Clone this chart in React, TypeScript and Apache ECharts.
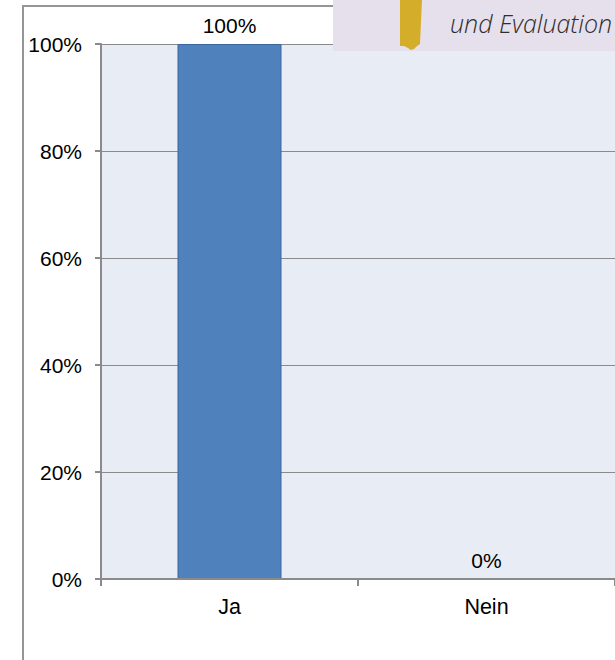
import React, { useEffect, useRef } from "react";
import * as echarts from "echarts";

const categories = ["Ja", "Nein"];
const values = [100, 0];
const yTicks = [0, 20, 40, 60, 80, 100];
const logoText = "und Evaluation";

export default function App() {
  const ref = useRef<HTMLDivElement>(null);
  useEffect(() => {
    if (!ref.current) return;
    const chart = echarts.init(ref.current, undefined, { renderer: "svg" });
    const font = "'Liberation Sans', Arial, sans-serif";
    chart.setOption({
      animation: false,
      backgroundColor: "#ffffff",
      grid: {
        left: 101,
        right: 0,
        top: 44,
        bottom: 81,
        show: true,
        backgroundColor: "#E8ECF4",
        borderWidth: 0,
      },
      xAxis: {
        type: "category",
        data: categories,
        axisLine: { show: true, lineStyle: { color: "#8a8a8a", width: 2 } },
        axisTick: { show: true, length: 7, lineStyle: { color: "#8a8a8a", width: 2 } },
        axisLabel: { color: "#000", fontSize: 21.5, fontFamily: font, margin: 17 },
        splitLine: { show: false },
        z: 5,
      },
      yAxis: {
        type: "value",
        min: yTicks[0],
        max: yTicks[yTicks.length - 1],
        interval: 20,
        axisLine: { show: true, lineStyle: { color: "#8a8a8a", width: 2 } },
        axisTick: { show: true, length: 6, inside: false, lineStyle: { color: "#8a8a8a", width: 2 } },
        axisLabel: {
          color: "#000",
          fontSize: 21,
          fontFamily: font,
          margin: 19,
          formatter: (v: number) => v + "%",
        },
        splitLine: { show: true, lineStyle: { color: "#8a8a8a", width: 1 } },
      },
      series: [
        {
          type: "bar",
          data: values.map((v) => ({
            value: v,
            itemStyle: v === 0 ? { borderWidth: 0, opacity: 0 } : undefined,
          })),
          barWidth: 104,
          itemStyle: { color: "#4F81BD", borderColor: "#3A679C", borderWidth: 1 },
          label: {
            show: true,
            position: "top",
            distance: 8,
            color: "#000",
            opacity: 1,
            fontSize: 21,
            fontFamily: font,
            formatter: (p: any) => p.value + "%",
          },
        },
      ],
      graphic: [
        {
          type: "rect",
          shape: { x: 23, y: 6, width: 800, height: 800 },
          style: { fill: "none", stroke: "#959595", lineWidth: 2 },
          silent: true,
          z: 100,
        },
        {
          type: "rect",
          shape: { x: 333, y: 0, width: 282, height: 51 },
          style: { fill: "#E6E0EC" },
          silent: true,
          z: 101,
        },
        {
          type: "polygon",
          shape: {
            points: [
              [400, 0],
              [422, 0],
              [420, 44],
              [417, 46],
              [414, 49],
              [411, 50],
              [408, 48],
              [404, 46],
              [400, 46],
            ],
          },
          style: { fill: "#D4AE2B" },
          silent: true,
          z: 102,
        },
        {
          type: "text",
          x: 450,
          y: 23,
          style: {
            text: logoText,
            fill: "#2e2e2e",
            fontSize: 25,
            fontStyle: "italic",
            fontFamily: "'Open Sans', 'Liberation Sans', sans-serif",
            fontWeight: 300,
            verticalAlign: "middle",
            align: "left",
          },
          silent: true,
          z: 103,
        },
      ],
    });
    return () => chart.dispose();
  }, []);
  return (
    <div
      ref={ref}
      style={{ position: "absolute", left: 0, top: 0, width: 615, height: 660 }}
    />
  );
}
